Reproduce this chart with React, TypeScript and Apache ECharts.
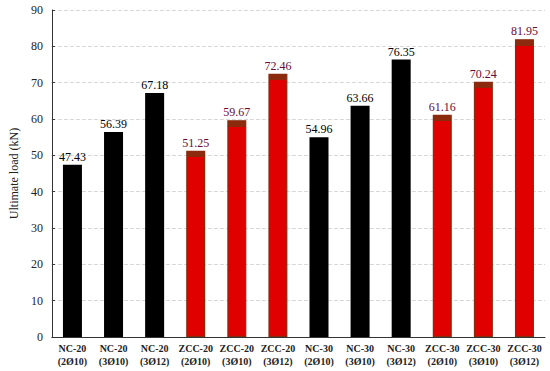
import React, { useEffect, useRef } from "react";
import * as echarts from "echarts";

const categories = [
  "NC-20\n(2Ø10)", "NC-20\n(3Ø10)", "NC-20\n(3Ø12)",
  "ZCC-20\n(2Ø10)", "ZCC-20\n(3Ø10)", "ZCC-20\n(3Ø12)",
  "NC-30\n(2Ø10)", "NC-30\n(3Ø10)", "NC-30\n(3Ø12)",
  "ZCC-30\n(2Ø10)", "ZCC-30\n(3Ø10)", "ZCC-30\n(3Ø12)",
];
const values = [47.43, 56.39, 67.18, 51.25, 59.67, 72.46, 54.96, 63.66, 76.35, 61.16, 70.24, 81.95];
const isZCC = [false, false, false, true, true, true, false, false, false, true, true, true];

const FONT = "Times New Roman, Liberation Serif, Tinos, serif";

export default function App() {
  const ref = useRef<HTMLDivElement>(null);
  useEffect(() => {
    if (!ref.current) return;
    const chart = echarts.init(ref.current, undefined, { renderer: "svg" });
    const pxPerUnit = 327 / 90;
    const data = values.map((v, i) => {
      if (!isZCC[i]) {
        return {
          value: v,
          itemStyle: { color: "#000000" },
          label: { color: "#000000" },
        };
      }
      const cap = 6 / (v * pxPerUnit);
      return {
        value: v,
        itemStyle: {
          color: new echarts.graphic.LinearGradient(0, 0, 0, 1, [
            { offset: 0, color: "#8b2a0c" },
            { offset: cap, color: "#8b2a0c" },
            { offset: cap + 0.0001, color: "#e00000" },
            { offset: 1, color: "#e00000" },
          ]),
          borderColor: "#8b2a0c",
          borderWidth: 1.2,
        },
        label: { color: "#6a0a38" },
      };
    });
    chart.setOption({
      animation: false,
      backgroundColor: "#ffffff",
      textStyle: { fontFamily: FONT },
      grid: { left: 41, right: 5, top: 10, bottom: 34 },
      xAxis: {
        type: "category",
        data: categories,
        axisLine: { show: true, lineStyle: { color: "#333", width: 1 } },
        axisTick: { show: false },
        axisLabel: {
          interval: 0,
          fontFamily: FONT,
          fontWeight: "bold",
          fontSize: 10,
          color: "#222",
          lineHeight: 13,
          margin: 5,
        },
      },
      yAxis: {
        type: "value",
        min: 0,
        max: 90,
        interval: 10,
        name: "Ultimate load (kN)",
        nameLocation: "middle",
        nameGap: 27,
        nameTextStyle: { fontFamily: FONT, fontSize: 12, color: "#222" },
        axisLine: { show: true, lineStyle: { color: "#333", width: 1 } },
        axisTick: { show: true, inside: true, length: 3, lineStyle: { color: "#333" } },
        axisLabel: { fontFamily: FONT, fontSize: 12, color: "#222", margin: 9 },
        splitLine: { show: true, lineStyle: { color: "#d8d8d8", type: "dashed", width: 1 } },
      },
      series: [
        {
          type: "bar",
          data,
          barWidth: 19,
          label: {
            show: true,
            position: "top",
            distance: 2,
            fontFamily: FONT,
            fontSize: 12,
            formatter: (p: any) => p.value.toFixed(2),
          },
        },
      ],
    });
    return () => chart.dispose();
  }, []);
  return <div ref={ref} style={{ width: 550, height: 371, position: "absolute", left: 0, top: 0 }} />;
}
